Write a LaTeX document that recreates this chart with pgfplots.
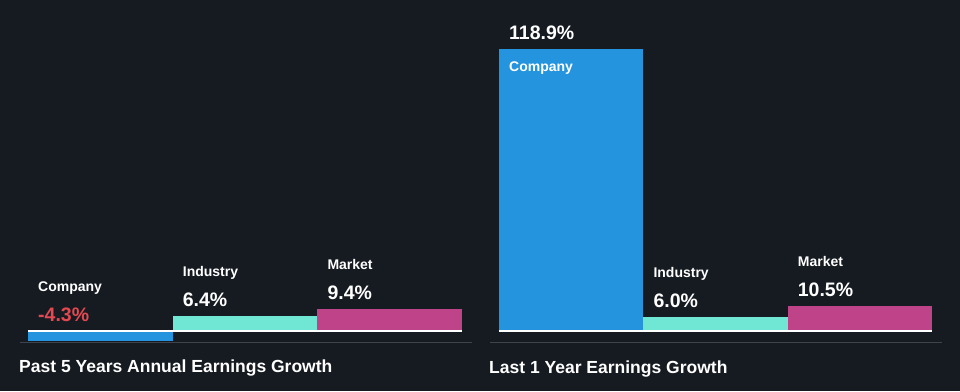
\documentclass[border=0pt]{standalone}
\usepackage{fontspec}
\setmainfont{Liberation Sans}
\usepackage{pgfplots}
\pgfplotsset{compat=1.18}
\definecolor{bg}{RGB}{22,27,34}
\definecolor{cblue}{RGB}{36,148,222}
\definecolor{cteal}{RGB}{112,230,212}
\definecolor{cpink}{RGB}{191,67,136}
\definecolor{cred}{RGB}{228,72,80}
\definecolor{cgrid}{RGB}{62,67,76}
\newcommand{\valfont}{\fontsize{19.5}{22}\selectfont\bfseries}
\newcommand{\labfont}{\fontsize{14}{16}\selectfont\bfseries}
\newcommand{\titfont}{\fontsize{17.5}{20}\selectfont\bfseries}
\pgfplotsset{
  panel/.style={
    scale only axis, width=434pt, height=293pt,
    xmin=0, xmax=3, ymin=-4.7, ymax=118.9,
    axis lines=none, ticks=none, clip=false,
    ybar, bar width=1, bar shift=0pt,
    anchor=south west,
  }
}
\begin{document}
\begin{tikzpicture}[x=1pt,y=1pt]
\fill[bg] (0,0) rectangle (960,-391);
% Left panel
\begin{axis}[panel, at={(28pt,-342pt)}]
\addplot[fill=cblue, draw=none] coordinates {(0.5,-4.3)};
\addplot[fill=cteal, draw=none] coordinates {(1.5,6.4)};
\addplot[fill=cpink, draw=none] coordinates {(2.5,9.4)};
\draw[white, line width=1.6pt] (axis cs:0,0) -- (axis cs:3,0);
\node[anchor=base west, text=cred, font=\valfont, inner sep=0pt] at ([xshift=10pt,yshift=9pt]axis cs:0,0) {-4.3\%};
\node[anchor=base west, text=white, font=\labfont, inner sep=0pt] at ([xshift=10pt,yshift=39pt]axis cs:0,0) {Company};
\node[anchor=base west, text=white, font=\valfont, inner sep=0pt] at ([xshift=10pt,yshift=9pt]axis cs:1,6.4) {6.4\%};
\node[anchor=base west, text=white, font=\labfont, inner sep=0pt] at ([xshift=10pt,yshift=39pt]axis cs:1,6.4) {Industry};
\node[anchor=base west, text=white, font=\valfont, inner sep=0pt] at ([xshift=10pt,yshift=9pt]axis cs:2,9.4) {9.4\%};
\node[anchor=base west, text=white, font=\labfont, inner sep=0pt] at ([xshift=10pt,yshift=39pt]axis cs:2,9.4) {Market};
\end{axis}
% Right panel
\begin{axis}[panel, at={(499pt,-342pt)}, width=433pt]
\addplot[fill=cblue, draw=none] coordinates {(0.5,118.9)};
\addplot[fill=cteal, draw=none] coordinates {(1.5,6.0)};
\addplot[fill=cpink, draw=none] coordinates {(2.5,10.5)};
\draw[white, line width=1.6pt] (axis cs:0,0) -- (axis cs:3,0);
\node[anchor=base west, text=white, font=\valfont, inner sep=0pt] at ([xshift=10pt,yshift=10pt]axis cs:0,118.9) {118.9\%};
\node[anchor=base west, text=white, font=\labfont, inner sep=0pt] at ([xshift=10pt,yshift=-22pt]axis cs:0,118.9) {Company};
\node[anchor=base west, text=white, font=\valfont, inner sep=0pt] at ([xshift=10pt,yshift=9pt]axis cs:1,6.0) {6.0\%};
\node[anchor=base west, text=white, font=\labfont, inner sep=0pt] at ([xshift=10pt,yshift=39pt]axis cs:1,6.0) {Industry};
\node[anchor=base west, text=white, font=\valfont, inner sep=0pt] at ([xshift=10pt,yshift=9pt]axis cs:2,10.5) {10.5\%};
\node[anchor=base west, text=white, font=\labfont, inner sep=0pt] at ([xshift=10pt,yshift=39pt]axis cs:2,10.5) {Market};
\end{axis}
\draw[cgrid, line width=0.8pt] (20,-342) -- (472,-342);
\draw[cgrid, line width=0.8pt] (490,-342) -- (942,-342);
\node[anchor=base west, text=white, font=\titfont, inner sep=0pt] at (19,-372.7) {Past 5 Years Annual Earnings Growth};
\node[anchor=base west, text=white, font=\titfont, inner sep=0pt] at (489,-373) {Last 1 Year Earnings Growth};
\end{tikzpicture}
\end{document}
